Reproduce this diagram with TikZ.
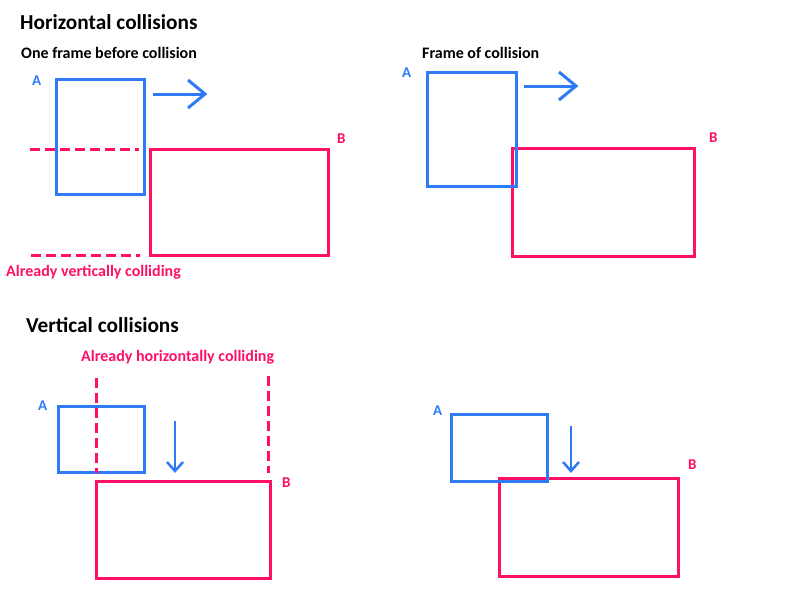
\documentclass[tikz,border=0pt]{standalone}
\usepackage{fontspec}
\setmainfont{Carlito}
\definecolor{cblue}{HTML}{2F7BF5}
\definecolor{cpink}{HTML}{FF0F66}
\begin{document}
\begin{tikzpicture}[x=1pt,y=-1pt,
  box/.style={line width=3pt},
  abox/.style={box,draw=cblue},
  bbox/.style={box,draw=cpink},
  dline/.style={draw=cpink,line width=3pt,dash pattern=on 10pt off 5pt},
  arr/.style={draw=cblue,line width=3pt,line join=miter},
  title/.style={font=\fontsize{21.3}{25}\selectfont\bfseries,anchor=base west,inner sep=0pt},
  sub/.style={font=\fontsize{16}{19}\selectfont\bfseries,anchor=base west,inner sep=0pt},
  lab/.style={font=\fontsize{15}{18}\selectfont\bfseries,anchor=base west,inner sep=0pt},
  note/.style={font=\fontsize{16}{19}\selectfont\bfseries,anchor=base west,inner sep=0pt,text=cpink}]
\useasboundingbox[fill=white] (0,0) rectangle (800,600);

% ---------- Horizontal collisions ----------
\node[title] (t1) at (20,29) {Horizontal collisions};
\node[sub] (s1) at (21,58) {One frame before collision};
\node[lab,text=cblue] (a1) at (32,85) {A};
\node[lab,text=cpink] (b1) at (337,143) {B};
\draw[bbox] (150,149) rectangle (328,255);
\draw[abox] (56,79) rectangle (144,194);
\draw[dline] (30,149) -- (139,149);
\draw[dline] (31,255) -- (140,255);
\node[note] (n1) at (6,276) {Already vertically colliding};
\coordinate (r1s) at (153,94);
\coordinate (r1e) at (205,94);
\draw[arr] (r1s) -- (r1e);
\draw[arr] (188,80) -- (r1e) -- (188,108);

\node[sub] (s2) at (422,58) {Frame of collision};
\node[lab,text=cblue] (a2) at (402,77) {A};
\node[lab,text=cpink] (b2) at (709,142) {B};
\draw[bbox] (512,148) rectangle (694,256);
\draw[abox] (427,72) rectangle (516,186);
\coordinate (r2s) at (524,86);
\coordinate (r2e) at (576,86);
\draw[arr] (r2s) -- (r2e);
\draw[arr] (559,72) -- (r2e) -- (559,100);

% ---------- Vertical collisions ----------
\node[title] (t2) at (26,332) {Vertical collisions};
\node[note] (n2) at (81,361) {Already horizontally colliding};
\node[lab,text=cblue] (a3) at (38,410) {A};
\node[lab,text=cpink] (b3) at (282,487) {B};
\draw[bbox] (96,481) rectangle (270,578);
\draw[abox] (58,406) rectangle (144,472);
\draw[dline] (96,378) -- (96,473);
\draw[dline] (268,376) -- (268,473);
\coordinate (d1s) at (175,421);
\coordinate (d1e) at (175,471);
\draw[arr,line width=2.5pt] (d1s) -- (d1e);
\draw[arr,line width=2.5pt] (167,462) -- (d1e) -- (183,462);

\node[lab,text=cblue] (a4) at (433,415) {A};
\node[lab,text=cpink] (b4) at (688,469) {B};
\draw[bbox] (499,478) rectangle (678,576);
\draw[abox] (451,414) rectangle (547,481);
\coordinate (d2s) at (571,426);
\coordinate (d2e) at (571,471);
\draw[arr,line width=2.5pt] (d2s) -- (d2e);
\draw[arr,line width=2.5pt] (563,462) -- (d2e) -- (579,462);
\end{tikzpicture}
\end{document}
